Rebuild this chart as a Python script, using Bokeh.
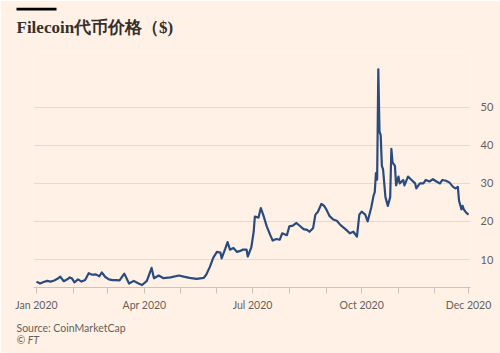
import pandas as pd
from bokeh.plotting import figure
from bokeh.models import (ColumnDataSource, FixedTicker, DatetimeTickFormatter,
                          Title, Range1d)
from bokeh.embed import file_html
from bokeh.resources import INLINE

# ---- data ----
dates = [
    "2020-01-01", "2020-01-04", "2020-01-07", "2020-01-10", "2020-01-13", "2020-01-16",
    "2020-01-19", "2020-01-21", "2020-01-24", "2020-01-27", "2020-01-29", "2020-01-31",
    "2020-02-02", "2020-02-05", "2020-02-08", "2020-02-11", "2020-02-14", "2020-02-17",
    "2020-02-20", "2020-02-23", "2020-02-25", "2020-02-28",
    "2020-03-02", "2020-03-05", "2020-03-08", "2020-03-11", "2020-03-15", "2020-03-19",
    "2020-03-23", "2020-03-27", "2020-03-30",
    "2020-04-03", "2020-04-07", "2020-04-09", "2020-04-13", "2020-04-17", "2020-04-23",
    "2020-04-30",
    "2020-05-04", "2020-05-09", "2020-05-15", "2020-05-21", "2020-05-23", "2020-05-26",
    "2020-05-29",
    "2020-06-01", "2020-06-04", "2020-06-05", "2020-06-08", "2020-06-10", "2020-06-12",
    "2020-06-15", "2020-06-18", "2020-06-20", "2020-06-23", "2020-06-26", "2020-06-27",
    "2020-06-30",
    "2020-07-02", "2020-07-03", "2020-07-06", "2020-07-08", "2020-07-10", "2020-07-13",
    "2020-07-16", "2020-07-18", "2020-07-21", "2020-07-24", "2020-07-26", "2020-07-30",
    "2020-08-01", "2020-08-04", "2020-08-07", "2020-08-10", "2020-08-13", "2020-08-16",
    "2020-08-18", "2020-08-21", "2020-08-23", "2020-08-25", "2020-08-28", "2020-08-30",
    "2020-09-01", "2020-09-04", "2020-09-07", "2020-09-10", "2020-09-13", "2020-09-15",
    "2020-09-18", "2020-09-21", "2020-09-24", "2020-09-27", "2020-09-29",
    "2020-10-01", "2020-10-04", "2020-10-06", "2020-10-09", "2020-10-11", "2020-10-12",
    "2020-10-13", "2020-10-14", "2020-10-15", "2020-10-16", "2020-10-17", "2020-10-18",
    "2020-10-19", "2020-10-21", "2020-10-23", "2020-10-25", "2020-10-26", "2020-10-27",
    "2020-10-29", "2020-10-30",
    "2020-11-01", "2020-11-02", "2020-11-05", "2020-11-06", "2020-11-09", "2020-11-12",
    "2020-11-15", "2020-11-16", "2020-11-19", "2020-11-22", "2020-11-24", "2020-11-27",
    "2020-11-30",
    "2020-12-03", "2020-12-06", "2020-12-08", "2020-12-11", "2020-12-14", "2020-12-17",
    "2020-12-19", "2020-12-21", "2020-12-22", "2020-12-24", "2020-12-25", "2020-12-26",
    "2020-12-28", "2020-12-30",
]
prices = [
    4.2, 3.7, 4.1, 4.4, 4.2, 4.5,
    5.0, 5.5, 4.3, 4.8, 5.3, 5.0,
    4.0, 4.8, 4.2, 4.6, 6.4, 6.0,
    6.1, 5.6, 6.6, 5.4,
    4.8, 4.6, 4.6, 4.5, 6.3, 3.7,
    4.4, 3.7, 3.3,
    4.4, 7.8, 5.1, 5.8, 5.1, 5.3,
    5.8,
    5.5, 5.2, 4.9, 5.2, 6.0, 8.0,
    10.5,
    12.0, 11.8, 10.3, 12.8, 14.6, 12.6,
    13.0, 12.0, 12.2, 12.6, 12.6, 10.8,
    13.2,
    17.3, 21.3, 21.0, 23.5, 21.8, 18.7,
    16.4, 15.0, 15.4, 15.2, 16.9, 16.4,
    18.7, 18.9, 19.6, 18.8, 18.0, 17.8,
    17.3, 18.2, 21.8, 22.5, 24.6, 24.2,
    23.3, 21.4, 20.5, 20.2, 19.1, 18.6,
    17.8, 16.9, 17.3, 16.0, 21.8,
    22.6, 21.8, 20.0, 23.6, 26.8, 27.7,
    32.7, 31.0, 60.0, 43.6, 42.7, 34.6,
    33.7, 26.4, 24.1, 26.4, 39.1, 35.5,
    34.6, 29.5,
    31.8, 30.0, 30.9, 29.5, 31.8, 30.9,
    30.0, 28.7, 30.0, 30.0, 30.9, 30.5,
    31.1,
    30.5, 30.0, 30.9, 30.7, 30.2, 29.1,
    28.7, 29.1, 25.5, 23.2, 24.1, 23.2,
    22.3, 21.8,
]
y_ticks = [10, 20, 30, 40, 50]
x_label_dates = ["2020-01-01", "2020-04-01", "2020-07-01", "2020-10-01", "2020-12-30"]
x_minor_dates = ["2020-02-01", "2020-03-01", "2020-05-01", "2020-06-01",
                 "2020-08-01", "2020-09-01", "2020-11-01", "2020-12-01"]
title_text = "Filecoin代币价格（$)"
source_text = "Source: CoinMarketCap"
credit_text = "© FT"

# ---- styling ----
BG = "#FFF1E5"
LINE = "#2a4b7f"
GRID = "#E6D9CE"
AXIS = "#CFC3B8"
TICK_TXT = "#66605C"
FONT = "Lato"


def ms(d):
    return pd.Timestamp(d).value / 1e6


src = ColumnDataSource(dict(date=pd.to_datetime(dates), price=prices))

p = figure(width=500, height=353, x_axis_type="datetime", y_axis_location="right",
           output_backend="svg", toolbar_location=None,
           min_border_left=33, min_border_right=30, min_border_top=0,
           min_border_bottom=66)
p.x_range = Range1d(ms("2019-12-29") + 12 * 3600e3, ms("2020-12-31") + 16 * 3600e3)
p.y_range = Range1d(2.65, 64.4)

p.background_fill_color = BG
p.border_fill_color = BG
p.outline_line_color = None

p.line(x="date", y="price", source=src, line_width=2.2, color=LINE, line_join="round")

# grid
p.xgrid.grid_line_color = None
p.ygrid.ticker = FixedTicker(ticks=y_ticks)
p.ygrid.grid_line_color = GRID
p.ygrid.grid_line_width = 1

# y axis (right)
yax = p.yaxis[0]
yax.ticker = FixedTicker(ticks=y_ticks)
yax.axis_line_color = None
yax.major_tick_line_color = None
yax.minor_tick_line_color = None
yax.major_label_text_color = TICK_TXT
yax.major_label_text_font = FONT
yax.major_label_text_font_size = "11px"
yax.major_label_standoff = 4

# x axis
xax = p.xaxis[0]
xax.ticker = FixedTicker(ticks=[ms(d) for d in x_label_dates],
                         minor_ticks=[ms(d) for d in x_minor_dates])
fmt = "%b %Y"
xax.formatter = DatetimeTickFormatter(milliseconds=fmt, seconds=fmt, minsec=fmt,
                                      minutes=fmt, hourmin=fmt, hours=fmt, days=fmt,
                                      months=fmt, years=fmt)
xax.axis_line_color = AXIS
xax.major_tick_line_color = AXIS
xax.minor_tick_line_color = AXIS
xax.major_tick_in = 0
xax.major_tick_out = 6
xax.minor_tick_in = 0
xax.minor_tick_out = 6
xax.major_label_text_color = TICK_TXT
xax.major_label_text_font = FONT
xax.major_label_text_font_size = "10.5px"
xax.major_label_standoff = 5

# header (stacked outward from the plot): background-coloured spacer, title, black bar
p.add_layout(Title(text=".", align="left", offset=-17, text_font_size="4px",
                   text_color=BG, standoff=11), "above")
p.add_layout(Title(text=title_text, align="left", offset=-17, standoff=0,
                   text_font="Liberation Serif", text_font_style="bold",
                   text_font_size="17px", text_color="#33302E"), "above")
p.add_layout(Title(text="\u2003" * 16, align="left", offset=-17, standoff=10,
                   text_font_size="2.5px", text_color="#000000",
                   background_fill_color="#000000", padding=0), "above")

# footer (stacked below the x axis): background-coloured spacer, source, credit
p.add_layout(Title(text=".", align="left", offset=-17, text_font_size="4px",
                   text_color=BG, standoff=1), "below")
p.add_layout(Title(text=source_text, align="left", offset=-17, standoff=0,
                   text_font=FONT, text_font_size="10.5px", text_font_style="normal",
                   text_color=TICK_TXT), "below")
p.add_layout(Title(text=credit_text, align="left", offset=-17, standoff=-3,
                   text_font=FONT, text_font_size="10.5px", text_font_style="italic",
                   text_color=TICK_TXT), "below")

open("out.html", "w").write(file_html(p, INLINE))
